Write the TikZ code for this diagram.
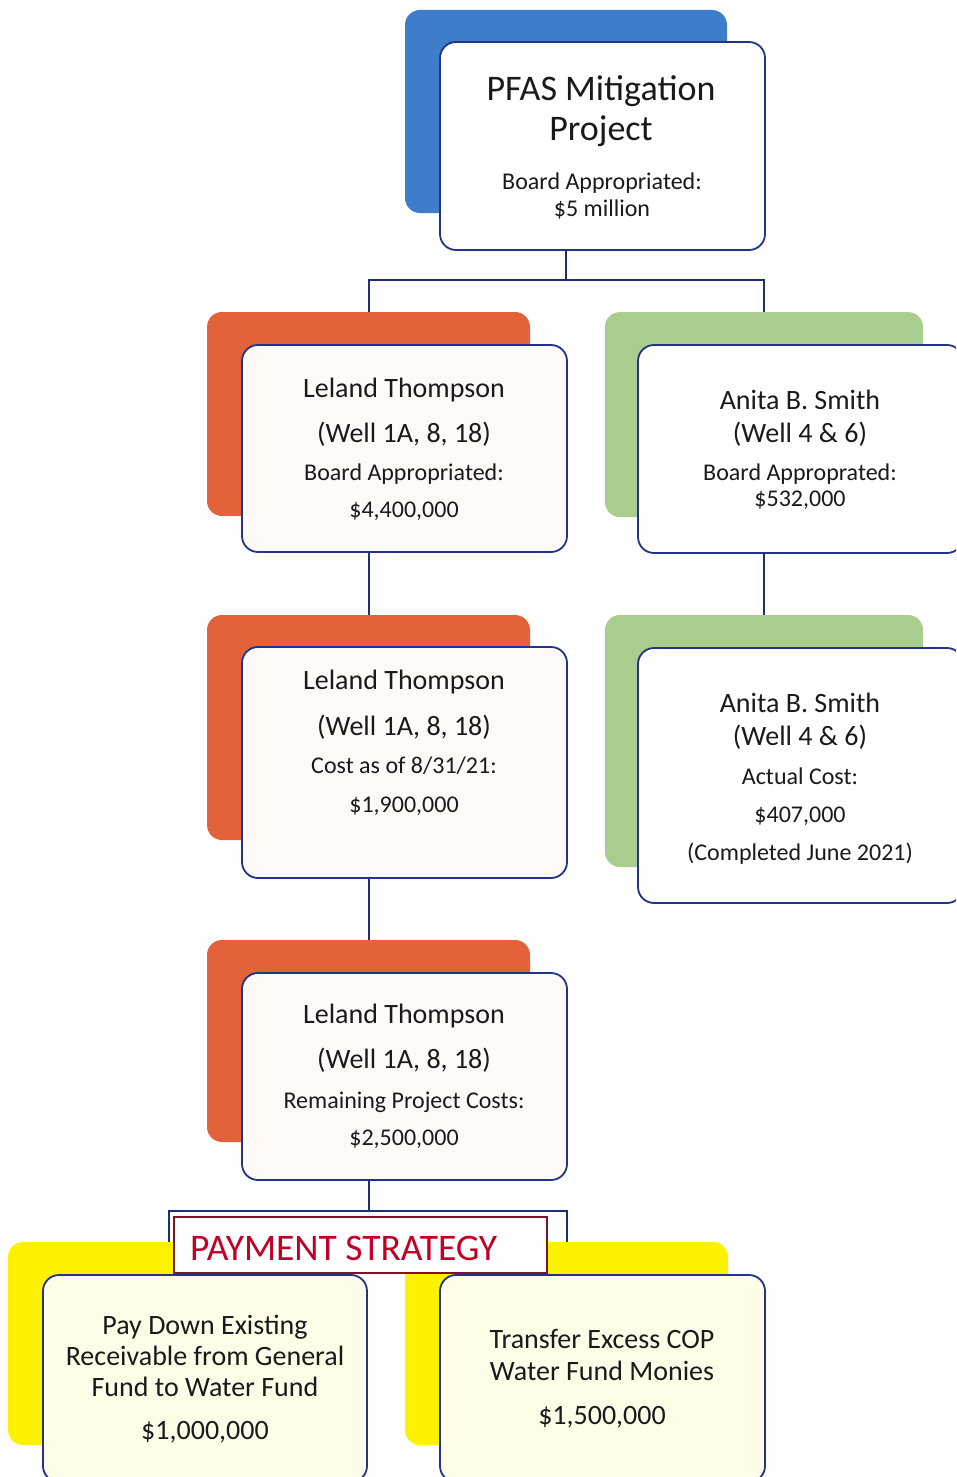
\documentclass[tikz,border=0pt]{standalone}
\usepackage{fontspec}
\setmainfont{Carlito}
\pgfdeclarelayer{paper}
\pgfdeclarelayer{bg}
\pgfsetlayers{paper,bg,main}
\definecolor{blueback}{HTML}{3D7DCA}
\definecolor{orangeback}{HTML}{E2623A}
\definecolor{greenback}{HTML}{A9CD8D}
\definecolor{yellowback}{HTML}{FFF200}
\definecolor{navy}{HTML}{22338A}
\definecolor{connc}{HTML}{1F2F6F}
\definecolor{payred}{HTML}{C00026}
\definecolor{payborder}{HTML}{7A1426}
\definecolor{txt}{HTML}{1A1A1A}
\definecolor{tintor}{HTML}{FFFAF8}
\definecolor{tintye}{HTML}{FFFDE8}
\tikzset{
  back/.style={draw=none, rounded corners=15pt, inner sep=0pt},
  front/.style={draw=navy, line width=1.8pt, fill=white, rounded corners=16pt, inner sep=0pt},
  conn/.style={draw=connc, line width=2pt},
  big/.style={anchor=base, text=txt, inner sep=0pt, font=\fontsize{28}{34}\selectfont},
  mid/.style={anchor=base, text=txt, inner sep=0pt, font=\fontsize{24}{29}\selectfont},
  title/.style={anchor=base, text=txt, inner sep=0pt, font=\fontsize{36}{43}\selectfont},
}
\begin{document}
\begin{tikzpicture}[x=1pt,y=-1pt]
\clip (0,0) rectangle (956,1477);
\begin{pgfonlayer}{paper}
\fill[white] (0,0) rectangle (956,1477);
\end{pgfonlayer}

% back boxes
\node[back, fill=blueback, minimum width=322pt, minimum height=203pt] (b0) at (566,111.5) {};
\node[back, fill=orangeback, minimum width=323pt, minimum height=204pt] (bl1) at (368.5,414) {};
\node[back, fill=orangeback, minimum width=323pt, minimum height=225pt] (bl2) at (368.5,727.5) {};
\node[back, fill=orangeback, minimum width=323pt, minimum height=202pt] (bl3) at (368.5,1041) {};
\node[back, fill=greenback, minimum width=318pt, minimum height=205pt] (br1) at (764,414.5) {};
\node[back, fill=greenback, minimum width=318pt, minimum height=252pt] (br2) at (764,741) {};
\node[back, fill=yellowback, minimum width=322pt, minimum height=203pt] (yl) at (169,1343.5) {};
\node[back, fill=yellowback, minimum width=323pt, minimum height=203pt] (yr) at (566.5,1343.5) {};

% front boxes
\node[front, minimum width=325pt, minimum height=208pt] (f0) at (602.5,146) {};
\node[front, fill=tintor, minimum width=325pt, minimum height=207pt] (fl1) at (404.5,448.5) {};
\node[front, fill=tintor, minimum width=325pt, minimum height=231pt] (fl2) at (404.5,762.5) {};
\node[front, fill=tintor, minimum width=325pt, minimum height=207pt] (fl3) at (404.5,1076.5) {};
\node[front, minimum width=325pt, minimum height=208pt] (fr1) at (800.5,449) {};
\node[front, minimum width=325pt, minimum height=255pt] (fr2) at (800.5,775.5) {};
\node[front, fill=tintye, minimum width=324pt, minimum height=207pt] (fyl) at (205,1378.5) {};
\node[front, fill=tintye, minimum width=325pt, minimum height=207pt] (fyr) at (602.5,1378.5) {};

% payment strategy box
\node[draw=payborder, line width=1.8pt, fill=white, minimum width=373pt, minimum height=56pt, inner sep=0pt] (pay) at (360.5,1245) {};
\node[anchor=base west, text=payred, inner sep=0pt, font=\fontsize{37.5}{44}\selectfont] (paytxt) at (190,1260) {PAYMENT STRATEGY};

% connectors
\begin{pgfonlayer}{bg}
\coordinate (j1) at (566,280);
\coordinate (j2) at (368.5,1211);
\draw[conn] (b0.south) -- (j1) -| (bl1.north);
\draw[conn] (j1) -| (br1.north);
\draw[conn] (bl1.south) -- (bl2.north);
\draw[conn] (bl2.south) -- (bl3.north);
\draw[conn] (br1.south) -- (br2.north);
\draw[conn] (bl3.south) -- (j2);
\draw[conn] (j2) -| (yl.north);
\draw[conn] (j2) -| (yr.north);
\end{pgfonlayer}

% texts: top
\node[title] (t0a) at (601,101) {PFAS Mitigation};
\node[title] (t0b) at (601,141) {Project};
\node[mid] (t0c) at (602,189) {Board Appropriated:};
\node[mid] (t0d) at (602,216) {\$5 million};

% left row 1
\node[big] (l1a) at (404,397) {Leland Thompson};
\node[big] (l1b) at (404,442) {(Well 1A, 8, 18)};
\node[mid] (l1c) at (404,480) {Board Appropriated:};
\node[mid] (l1d) at (404,517) {\$4,400,000};

% left row 2
\node[big] (l2a) at (404,689) {Leland Thompson};
\node[big] (l2b) at (404,735) {(Well 1A, 8, 18)};
\node[mid] (l2c) at (404,773) {Cost as of 8/31/21:};
\node[mid] (l2d) at (404,812) {\$1,900,000};

% left row 3
\node[big] (l3a) at (404,1023) {Leland Thompson};
\node[big] (l3b) at (404,1068) {(Well 1A, 8, 18)};
\node[mid] (l3c) at (404,1108) {Remaining Project Costs:};
\node[mid] (l3d) at (404,1145) {\$2,500,000};

% right row 1
\node[big] (r1a) at (800,409) {Anita B. Smith};
\node[big] (r1b) at (800,442) {(Well 4 \& 6)};
\node[mid] (r1c) at (800,480) {Board Approprated:};
\node[mid] (r1d) at (800,506) {\$532,000};

% right row 2
\node[big] (r2a) at (800,712) {Anita B. Smith};
\node[big] (r2b) at (800,745) {(Well 4 \& 6)};
\node[mid] (r2c) at (800,784) {Actual Cost:};
\node[mid] (r2d) at (800,822) {\$407,000};
\node[mid] (r2e) at (800,860) {(Completed June 2021)};

% bottom left
\node[big] (y1a) at (205,1334) {Pay Down Existing};
\node[big] (y1b) at (205,1365) {Receivable from General};
\node[big] (y1c) at (205,1396) {Fund to Water Fund};
\node[big] (y1d) at (205,1439) {\$1,000,000};

% bottom right
\node[big] (y2a) at (602,1348) {Transfer Excess COP};
\node[big] (y2b) at (602,1380) {Water Fund Monies};
\node[big] (y2c) at (602,1424) {\$1,500,000};
\end{tikzpicture}
\end{document}
